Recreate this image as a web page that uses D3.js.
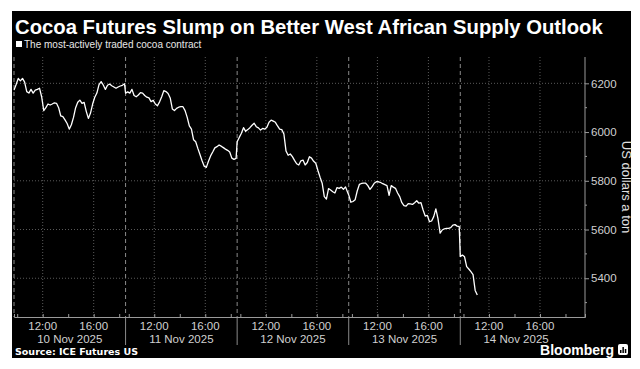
<!DOCTYPE html>
<html><head><meta charset="utf-8">
<script src="https://cdn.jsdelivr.net/npm/d3@7/dist/d3.min.js"></script>
<style>body{margin:0;background:#fff}svg{display:block}</style>
</head><body>
<script>
const title = "Cocoa Futures Slump on Better West African Supply Outlook";
const subtitle = "The most-actively traded cocoa contract";
const yAxisTitle = "US dollars a ton";
const source = "Source: ICE Futures US";
const dayLabels = ["10 Nov 2025", "11 Nov 2025", "12 Nov 2025", "13 Nov 2025", "14 Nov 2025"];
// prices every 10 minutes from the 09:45 open
const nov10 = [6172,6195,6220,6210,6220,6205,6166,6160,6175,6160,6172,6175,6180,6145,6088,6100,6115,6111,6115,6120,6118,6100,6066,6063,6050,6035,6012,6030,6060,6100,6122,6131,6118,6122,6085,6056,6078,6115,6143,6160,6195,6207,6193,6175,6192,6197,6190,6185,6180,6185,6189,6192,6198];
const nov11 = [6160,6165,6160,6175,6150,6145,6152,6162,6160,6150,6143,6140,6125,6130,6115,6108,6124,6145,6170,6166,6158,6140,6095,6088,6097,6102,6104,6104,6088,6060,6025,6012,5968,5960,5933,5908,5882,5860,5855,5880,5902,5918,5935,5940,5947,5942,5936,5930,5925,5918,5893,5888,5892];
const nov12 = [5960,5978,5995,6018,6003,6010,6018,6028,6036,6022,6017,6008,6015,6012,6020,6040,6049,6045,6040,6025,6012,6010,5992,5922,5905,5910,5899,5884,5870,5865,5882,5885,5865,5875,5899,5893,5880,5872,5842,5815,5790,5735,5725,5768,5762,5755,5750,5772,5769,5774,5765,5775,5752];
const nov13 = [5742,5712,5715,5722,5758,5785,5789,5790,5790,5780,5765,5776,5790,5796,5796,5793,5788,5784,5780,5740,5780,5774,5769,5750,5735,5710,5698,5696,5706,5705,5703,5710,5718,5708,5710,5680,5655,5658,5632,5635,5653,5685,5645,5585,5598,5603,5605,5605,5608,5618,5620,5614,5612];
const nov14 = [5489,5495,5488,5448,5438,5427,5415,5350,5331];
const yTicks = [5400, 5600, 5800, 6000, 6200];
const yMinorTicks = [5300, 5500, 5700, 5900, 6100];
const hourTicks = [10, 12, 14, 16, 18];
const labelHours = [12, 16];
const hourLabels = ["12:00", "16:00"];

const openHour = 9.75, sessionLen = 8.75, stepMin = 10;
const days = [nov10, nov11, nov12, nov13, nov14];

const W = 640, H = 369;
const plot = {left: 14, right: 585, top: 57, bottom: 317};
const FONT = "Liberation Sans, Arial, sans-serif";
const svg = d3.select("body").append("svg").attr("width", W).attr("height", H);
svg.append("rect").attr("x", 12).attr("y", 11).attr("width", 619).attr("height", 347).attr("fill", "#000");

const x = d3.scaleLinear().domain([0, 44.78]).range([plot.left, plot.right]);
const y = d3.scaleLinear().domain([5241, 6308]).range([plot.bottom, plot.top]);
const tOf = (d, h) => d * sessionLen + (h - openHour);

const data = [];
days.forEach((arr, d) => arr.forEach((v, k) => data.push({t: d * sessionLen + k * stepMin / 60, v})));

// horizontal gridlines
svg.append("g").selectAll("line").data(yTicks).join("line")
  .attr("x1", plot.left).attr("x2", plot.right).attr("y1", d => y(d)).attr("y2", d => y(d))
  .attr("stroke", "#5a5a5a").attr("stroke-width", 1).attr("stroke-dasharray", "1,2");

// vertical gridlines at labelled hours
const vTicks = [];
days.forEach((_, d) => labelHours.forEach(h => vTicks.push(tOf(d, h))));
svg.append("g").selectAll("line").data(vTicks).join("line")
  .attr("x1", d => x(d)).attr("x2", d => x(d)).attr("y1", plot.top).attr("y2", plot.bottom)
  .attr("stroke", "#5a5a5a").attr("stroke-dasharray", "1,2");

// day separators
const seps = days.map((_, d) => tOf(d, openHour));
svg.append("g").selectAll("line").data(seps).join("line")
  .attr("x1", d => x(d)).attr("x2", d => x(d)).attr("y1", plot.top).attr("y2", plot.bottom)
  .attr("stroke", "#8a8a8a").attr("stroke-dasharray", "4,3");
svg.append("g").selectAll("line").data(seps.slice(1)).join("line")
  .attr("x1", d => x(d)).attr("x2", d => x(d)).attr("y1", plot.bottom).attr("y2", 345)
  .attr("stroke", "#8a8a8a");

// line
svg.append("path").datum(data)
  .attr("d", d3.line().x(d => x(d.t)).y(d => y(d.v)))
  .attr("fill", "none").attr("stroke", "#fff").attr("stroke-width", 1.3).attr("stroke-linejoin", "round");

// bottom axis
const allHourTicks = [];
days.forEach((_, d) => hourTicks.forEach(h => allHourTicks.push(tOf(d, h))));
const xAxis = d3.axisBottom(x).tickValues(allHourTicks).tickSize(-3).tickFormat("");
const gx = svg.append("g").attr("transform", `translate(0,${plot.bottom})`).call(xAxis);
gx.select(".domain").attr("stroke", "#9a9a9a");
gx.selectAll(".tick line").attr("stroke", "#9a9a9a");

const labs = [];
days.forEach((_, d) => labelHours.forEach((h, i) => labs.push({t: tOf(d, h), s: hourLabels[i]})));
svg.append("g").selectAll("text").data(labs).join("text")
  .attr("x", d => x(d.t)).attr("y", 330).attr("text-anchor", "middle")
  .attr("fill", "#d0d0d0").attr("font-family", FONT).attr("font-size", 11.5)
  .text(d => d.s);
svg.append("g").selectAll("text").data(dayLabels).join("text")
  .attr("x", (d, i) => x(tOf(i, openHour + sessionLen / 2))).attr("y", 343).attr("text-anchor", "middle")
  .attr("fill", "#d0d0d0").attr("font-family", FONT).attr("font-size", 11.5)
  .text(d => d);

// right axis
const yAxis = d3.axisRight(y).tickValues(yTicks).tickSize(4).tickPadding(2).tickFormat(d3.format("d"));
const gy = svg.append("g").attr("transform", `translate(${plot.right},0)`).call(yAxis);
gy.select(".domain").attr("stroke", "#9a9a9a").attr("d", `M0,${plot.top}V${plot.bottom}`);
gy.selectAll(".tick line").attr("stroke", "#9a9a9a");
gy.selectAll(".tick text").attr("fill", "#d0d0d0").attr("font-family", FONT).attr("font-size", 11.5);
svg.append("g").selectAll("line").data(yMinorTicks).join("line")
  .attr("x1", plot.right).attr("x2", plot.right + 2).attr("y1", d => y(d)).attr("y2", d => y(d))
  .attr("stroke", "#9a9a9a");
svg.append("text").attr("transform", `translate(622,${(plot.top + plot.bottom) / 2}) rotate(90)`)
  .attr("text-anchor", "middle").attr("fill", "#e0e0e0")
  .attr("font-family", FONT).attr("font-size", 13).text(yAxisTitle);

// titles
const tt = svg.append("text").attr("x", 15).attr("y", 34).attr("fill", "#fff")
  .attr("font-family", FONT).attr("font-weight", "bold").attr("font-size", 20).text(title);
const tw = tt.node().getComputedTextLength();
if (tw > 0) tt.attr("font-size", Math.min(22, 20 * 588 / tw));
svg.append("rect").attr("x", 16).attr("y", 41).attr("width", 6).attr("height", 6).attr("fill", "#fff");
svg.append("text").attr("x", 24).attr("y", 48).attr("fill", "#e8e8e8")
  .attr("font-family", FONT).attr("font-size", 10).text(subtitle);

svg.append("text").attr("x", 15).attr("y", 355).attr("fill", "#fff")
  .attr("font-family", "DejaVu Sans, sans-serif").attr("font-weight", "bold").attr("font-size", 9.5).text(source);
svg.append("text").attr("x", 614).attr("y", 355).attr("text-anchor", "end").attr("fill", "#fff")
  .attr("font-family", FONT).attr("font-weight", "bold").attr("font-size", 14).text("Bloomberg");
svg.append("rect").attr("x", 618).attr("y", 344).attr("width", 10).attr("height", 11).attr("rx", 2).attr("fill", "#fff");
svg.append("g").selectAll("rect").data([3, 6, 4]).join("rect")
  .attr("x", (d, i) => 620 + i * 2.4).attr("y", d => 353 - d).attr("width", 1.5).attr("height", d => d).attr("fill", "#000");
</script>
</body></html>
